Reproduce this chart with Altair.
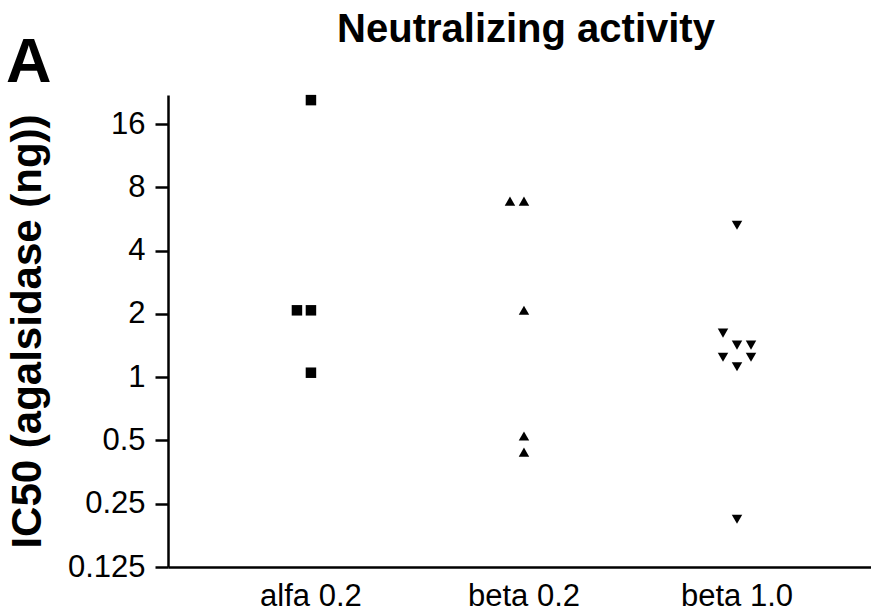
import altair as alt
import pandas as pd

# data
groups = ["alfa 0.2"] * 4 + ["beta 0.2"] * 5 + ["beta 1.0"] * 8
ic50 = [20.8, 2.08, 2.08, 1.05,
        6.88, 6.88, 2.08, 0.525, 0.44,
        5.28, 1.62, 1.42, 1.42, 1.245, 1.245, 1.12, 0.211]
slot = [0, -1, 0, 0,
        -1, 0, 0, 0, 0,
        0, -1, 0, 1, -1, 1, 0, 0]
categories = ["alfa 0.2", "beta 0.2", "beta 1.0"]
shapes = ["square", "triangle-up", "triangle-down"]
y_ticks = [0.125, 0.25, 0.5, 1, 2, 4, 8, 16]
title_text = "Neutralizing activity"
panel_label = "A"

df = pd.DataFrame({"group": groups, "ic50": ic50, "slot": slot})

FONT = "Liberation Sans"
W = 703
PAD_OUTER = 0.15
half_band = W / (len(categories) + 2 * PAD_OUTER) / 2  # marks sit at band start; centre them
JIT = 14

points = alt.Chart(df).mark_point(filled=True, opacity=1, color="black", size=110).encode(
    x=alt.X("group:N", sort=categories,
            scale=alt.Scale(domain=categories, paddingInner=0, paddingOuter=PAD_OUTER, align=0.57),
            axis=alt.Axis(title=None, ticks=False, labelAngle=0, labelFontSize=31,
                          labelFont=FONT, labelColor="black", labelPadding=14,
                          domainColor="black", domainWidth=2.5)),
    xOffset=alt.XOffset("slot:Q", scale=alt.Scale(domain=[-1, 1],
                                                  range=[half_band - JIT, half_band + JIT])),
    y=alt.Y("ic50:Q",
            scale=alt.Scale(type="log", base=2, domain=[0.125, 22], nice=False),
            axis=alt.Axis(title="IC50 (agalsidase (ng))", values=y_ticks, format="~g",
                          titleFontSize=42, titleFont=FONT, titleFontWeight="bold",
                          titleColor="black", titlePadding=18,
                          labelFontSize=31, labelFont=FONT, labelColor="black",
                          labelPadding=10, tickSize=13, tickWidth=2.5, tickColor="black",
                          domainColor="black", domainWidth=2.5, grid=False)),
    shape=alt.Shape("group:N", scale=alt.Scale(domain=categories, range=shapes), legend=None),
)

label_a = alt.Chart(pd.DataFrame({"t": [panel_label]})).mark_text(
    font=FONT, fontSize=63, fontWeight="bold", align="left", baseline="alphabetic",
    color="black"
).encode(text="t:N", x=alt.value(-162), y=alt.value(-13))

title = alt.Chart(pd.DataFrame({"t": [title_text]})).mark_text(
    font=FONT, fontSize=40, fontWeight="bold", align="center", baseline="alphabetic",
    color="black"
).encode(text="t:N", x=alt.value(358), y=alt.value(-53))

chart = alt.layer(points, label_a, title).properties(
    width=W, height=472,
    padding={"left": 168, "top": 95, "right": 0, "bottom": 47},
    autosize=alt.AutoSizeParams(type="none"),
).configure_view(stroke=None)

chart.save("out.html", embed_options={"renderer": "svg", "actions": False})
